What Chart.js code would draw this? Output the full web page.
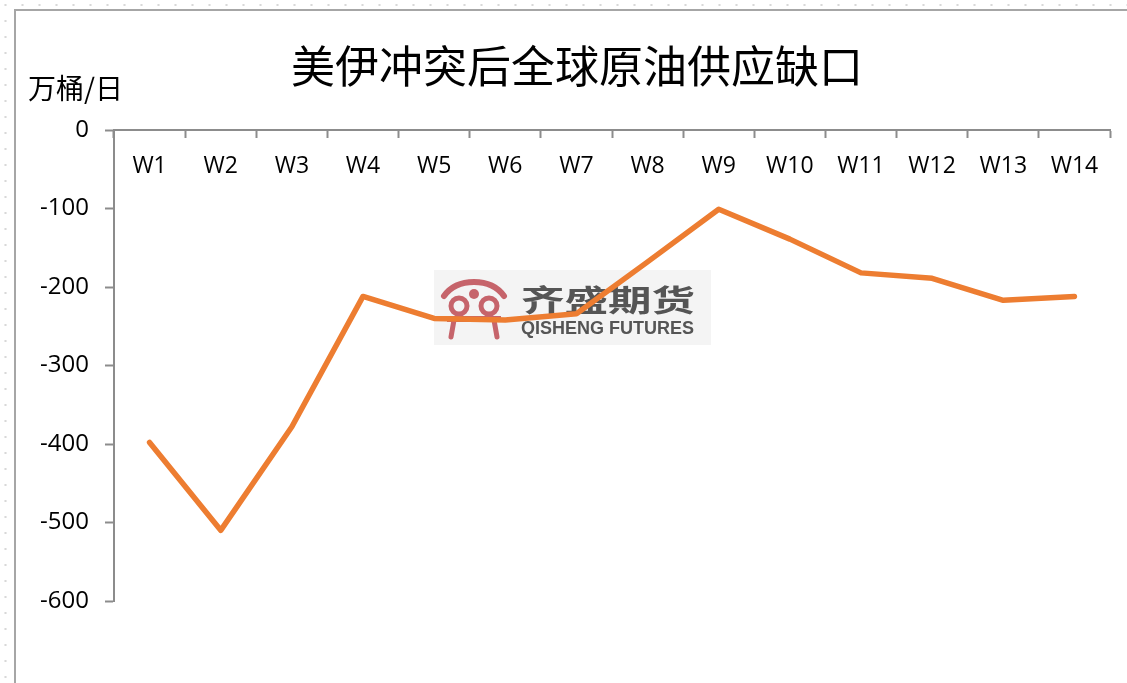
<!DOCTYPE html>
<html>
<head>
<meta charset="utf-8">
<script src="https://cdn.jsdelivr.net/npm/chart.js@4"></script>
<style>
    body {
        margin: 0;
        width: 1127px;
        height: 683px;
        overflow: hidden;
        background-color: #fff;
        background-image: radial-gradient(#d8d8d8 1px, transparent 1.3px);
        background-size: 17px 16px;
        background-position: -3px -3px;
    }
    #frame {
        position: absolute;
        left: 14px;
        top: 9px;
        width: 1111px;
        height: 672px;
        background: #fff;
        border-left: 2px solid #a6a6a6;
        border-top: 2px solid #a6a6a6;
    }
</style>
</head>
<body>
<div id="frame"><canvas id="gapChart" width="1111" height="672"></canvas></div>
<script>
let weeks = ["W1", "W2", "W3", "W4", "W5", "W6", "W7", "W8", "W9", "W10", "W11", "W12", "W13", "W14"];
let supplyGap = [-398, -510, -378, -212, -240, -242, -234, -168, -101, -139, -182, -189, -217, -212];
let yTicks = [0, -100, -200, -300, -400, -500, -600];

let chartTitle = "美伊冲突后全球原油供应缺口";
let unitLabel = "万桶/日";

let axisColor = "#8c8c8c";
let labelFont = "'Open Sans', 'Liberation Sans', sans-serif";

// watermark, title and unit text
let extras = {
    id: "extras",
    beforeDatasetsDraw(chart) {
        let ctx = chart.ctx;
        let x0 = 418, y0 = 259;
        ctx.save();
        ctx.fillStyle = "#f4f4f4";
        ctx.fillRect(x0, y0, 277, 75);

        // logo mark
        ctx.strokeStyle = "#c6646b";
        ctx.fillStyle = "#c6646b";
        ctx.lineWidth = 6;
        ctx.lineCap = "round";
        ctx.beginPath();
        ctx.moveTo(x0 + 10, y0 + 26);
        ctx.quadraticCurveTo(x0 + 20, y0 + 12, x0 + 40, y0 + 12);
        ctx.quadraticCurveTo(x0 + 60, y0 + 12, x0 + 70, y0 + 26);
        ctx.stroke();
        ctx.lineWidth = 5;
        ctx.beginPath();
        ctx.arc(x0 + 25, y0 + 36, 8, 0, Math.PI * 2);
        ctx.stroke();
        ctx.beginPath();
        ctx.arc(x0 + 55, y0 + 36, 8, 0, Math.PI * 2);
        ctx.stroke();
        ctx.fillRect(x0 + 13, y0 + 46, 54, 6);
        ctx.beginPath();
        ctx.moveTo(x0 + 20, y0 + 50);
        ctx.lineTo(x0 + 17, y0 + 67);
        ctx.moveTo(x0 + 60, y0 + 50);
        ctx.lineTo(x0 + 63, y0 + 67);
        ctx.stroke();
        ctx.beginPath();
        ctx.arc(x0 + 40, y0 + 24, 5, 0, Math.PI * 2);
        ctx.fill();

        ctx.fillStyle = "#555";
        ctx.textBaseline = "middle";
        ctx.textAlign = "left";
        ctx.save();
        ctx.translate(x0 + 87, y0 + 30);
        ctx.scale(1.45, 1);
        ctx.font = "bold 30px 'Noto Sans CJK SC'";
        ctx.fillText("齐盛期货", 0, 0);
        ctx.restore();
        ctx.font = "bold 18px 'Liberation Sans', sans-serif";
        ctx.fillText("QISHENG FUTURES", x0 + 87, y0 + 59);
        ctx.restore();
    },
    afterDraw(chart) {
        let ctx = chart.ctx;
        ctx.save();
        ctx.fillStyle = "#000";
        ctx.textBaseline = "middle";
        ctx.textAlign = "center";
        ctx.font = "44px 'Noto Sans CJK SC'";
        ctx.fillText(chartTitle, 561, 55);
        ctx.textAlign = "left";
        ctx.font = "28px 'Noto Sans CJK SC'";
        ctx.fillText(unitLabel, 12, 77);
        ctx.restore();
    }
};

new Chart(document.getElementById("gapChart"), {
    type: "line",
    data: {
        labels: weeks,
        datasets: [{
            data: supplyGap,
            borderColor: "#ed7d31",
            borderWidth: 5.5,
            borderCapStyle: "round",
            borderJoinStyle: "round",
            pointRadius: 0,
            tension: 0
        }]
    },
    options: {
        responsive: false,
        animation: false,
        layout: { padding: { left: 0, right: 17, top: 119, bottom: 82 } },
        plugins: {
            legend: { display: false },
            tooltip: { enabled: false },
            title: { display: false }
        },
        scales: {
            x: {
                position: { y: 0 },
                offset: true,
                border: { color: axisColor, width: 2 },
                grid: {
                    offset: true,
                    drawOnChartArea: false,
                    drawTicks: true,
                    tickLength: 7,
                    tickColor: axisColor,
                    tickWidth: 2
                },
                ticks: {
                    color: "#000",
                    padding: 16,
                    maxRotation: 0,
                    font: { family: labelFont, size: 23 }
                }
            },
            y: {
                min: -600,
                max: 0,
                afterFit(scale) { scale.width = 98; },
                afterBuildTicks(scale) { scale.ticks = yTicks.map(v => ({ value: v })); },
                border: { color: axisColor, width: 2 },
                grid: {
                    drawOnChartArea: false,
                    drawTicks: true,
                    tickLength: 9,
                    tickColor: axisColor,
                    tickWidth: 2
                },
                ticks: {
                    color: "#000",
                    padding: 16,
                    font: { family: labelFont, size: 24 }
                }
            }
        }
    },
    plugins: [extras]
});
</script>
</body>
</html>
